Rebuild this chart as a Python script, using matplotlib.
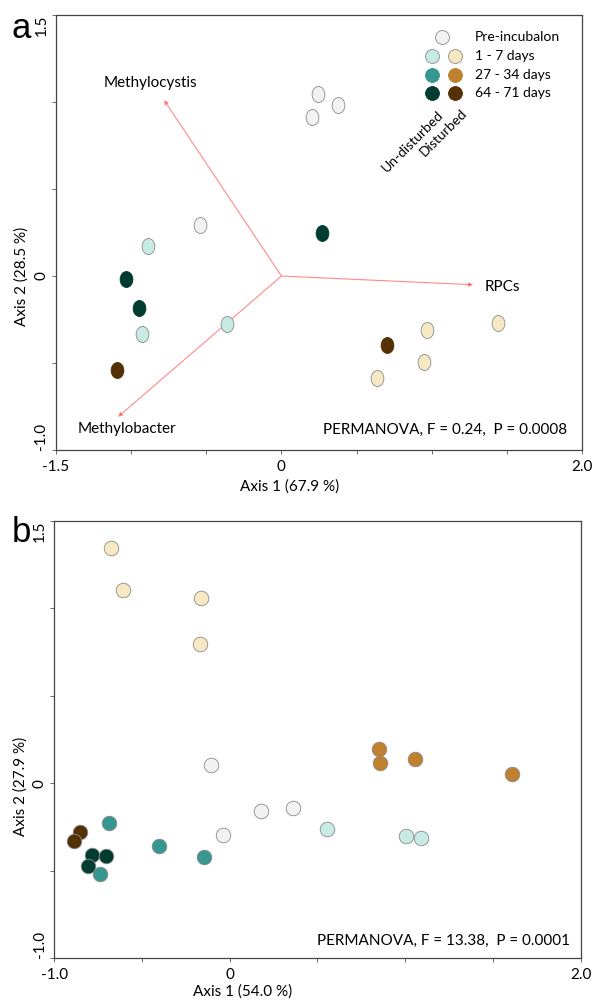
import numpy as np
import matplotlib
matplotlib.use("Agg")
import matplotlib.pyplot as plt
from matplotlib.path import Path
from matplotlib.transforms import Affine2D

# ---- group colours (BrBG-like) ----
group_colors = {
    "pre": "#f2f2f2",
    "u1": "#c7eae5",
    "u27": "#35978f",
    "u64": "#003c30",
    "d1": "#f6e8c3",
    "d27": "#bf812d",
    "d64": "#543005",
}

# ---- panel a: ordination scores ----
a_pre_x = [-0.544, 0.242, 0.375, 0.202]
a_pre_y = [0.291, 1.046, 0.983, 0.914]
a_u1_x = [-0.885, -0.925, -0.362]
a_u1_y = [0.174, -0.332, -0.278]
a_u64_x = [-1.036, -0.947, 0.273]
a_u64_y = [-0.016, -0.184, 0.247]
a_d1_x = [0.971, 1.444, 0.947, 0.636]
a_d1_y = [-0.310, -0.272, -0.493, -0.586]
a_d64_x = [-1.094, 0.705]
a_d64_y = [-0.542, -0.395]

# ---- panel a: biplot vectors ----
vec_names = ["Methylocystis", "Methylobacter", "RPCs"]
vec_x = [-0.781, -1.087, 1.275]
vec_y = [1.011, -0.809, -0.050]

# ---- panel b: ordination scores ----
b_pre_x = [-0.109, 0.176, 0.362, -0.037]
b_pre_y = [0.107, -0.160, -0.139, -0.293]
b_u1_x = [0.553, 1.005, 1.092]
b_u1_y = [-0.263, -0.301, -0.314]
b_u27_x = [-0.687, -0.742, -0.406, -0.147]
b_u27_y = [-0.229, -0.520, -0.358, -0.423]
b_u64_x = [-0.786, -0.706, -0.809]
b_u64_y = [-0.408, -0.413, -0.471]
b_d1_x = [-0.678, -0.609, -0.163, -0.168]
b_d1_y = [1.344, 1.107, 1.060, 0.795]
b_d27_x = [0.853, 0.855, 1.055, 1.608]
b_d27_y = [0.198, 0.114, 0.139, 0.055]
b_d64_x = [-0.855, -0.885]
b_d64_y = [-0.280, -0.328]

legend_labels = ["Pre-incubalon", "1 - 7 days", "27 - 34 days", "64 - 71 days"]

FONT = ["Lato", "DejaVu Sans"]
plt.rcParams["font.family"] = FONT

# slightly tall ellipse used in panel a
ellipse = Path.unit_circle().transformed(Affine2D().scale(0.8, 1.0))

fig = plt.figure(figsize=(5.92, 10.01), dpi=100)
ax_a = fig.add_axes([0.0946, 0.5504, 0.8885, 0.4346])
ax_b = fig.add_axes([0.0917, 0.0427, 0.8892, 0.4369])

EDGE = "#8a8a8a"
DARK = ("u27", "u64", "d27", "d64")


def style_axes(ax, xlim, ylim, xticks, yticks, xlab_show, ylab_show):
    ax.set_xlim(*xlim)
    ax.set_ylim(*ylim)
    ax.set_xticks(xticks)
    ax.set_yticks(yticks)
    ax.set_xticklabels([t if t is not None else "" for t in xlab_show], fontsize=11)
    ax.set_yticklabels([t if t is not None else "" for t in ylab_show], fontsize=11,
                       rotation=90)
    ax.tick_params(direction="out", length=3, width=0.6, colors="#555555",
                   labelcolor="black")
    ax.tick_params(axis="x", pad=4)
    ax.tick_params(axis="y", pad=2.5)
    labels = ax.get_yticklabels()
    for lab in labels:
        lab.set_va("center")
    labels[0].set_va("bottom")
    labels[-1].set_va("top")
    for sp in ax.spines.values():
        sp.set_color("#444444")
        sp.set_linewidth(0.9)


# ---------------- panel a ----------------
ax = ax_a
style_axes(ax, (-1.5, 2.0), (-1.0, 1.5),
           np.arange(-1.5, 2.01, 0.5), np.arange(-1.0, 1.51, 0.5),
           ["-1.5", None, None, "0", None, None, None, "2.0"],
           ["-1.0", None, "0", None, None, "1.5"])

for name, vx, vy in zip(vec_names, vec_x, vec_y):
    ax.annotate("", xy=(vx, vy), xytext=(0, 0),
                arrowprops=dict(arrowstyle="-|>", color="#ff8a8a", lw=0.8,
                                mutation_scale=6, shrinkA=0, shrinkB=0,
                                fc="#ff2020", ec="#ff8a8a"))
ax.text(-0.873, 1.109, vec_names[0], fontsize=11, ha="center", va="center")
ax.text(-1.029, -0.879, vec_names[1], fontsize=11, ha="center", va="center")
ax.text(1.353, -0.063, vec_names[2], fontsize=11, ha="left", va="center")

a_sets = [("pre", a_pre_x, a_pre_y), ("u1", a_u1_x, a_u1_y),
          ("u64", a_u64_x, a_u64_y), ("d1", a_d1_x, a_d1_y),
          ("d64", a_d64_x, a_d64_y)]
for g, xs, ys in a_sets:
    ax.scatter(xs, ys, s=11.5 ** 2, marker=ellipse, c=group_colors[g],
               edgecolors=group_colors[g] if g in DARK else EDGE,
               linewidths=0.6, zorder=3)

ax.text(0.971, 0.046, "PERMANOVA, F = 0.24,  P = 0.0008", transform=ax.transAxes,
        fontsize=11, ha="right", va="center")

# legend built in axes coordinates
col_x = [0.715, 0.759]
row_y = [0.949, 0.906, 0.862, 0.821]
ax.scatter([0.734], [row_y[0]], s=10 ** 2, c=group_colors["pre"], edgecolors=EDGE,
           linewidths=0.6, transform=ax.transAxes, zorder=3, clip_on=False)
for r, (gu, gd) in enumerate([("u1", "d1"), ("u27", "d27"), ("u64", "d64")], start=1):
    for cx, g in zip(col_x, (gu, gd)):
        ax.scatter([cx], [row_y[r]], s=10 ** 2, c=group_colors[g],
                   edgecolors=group_colors[g] if g in DARK else EDGE, linewidths=0.6,
                   transform=ax.transAxes, zorder=3, clip_on=False)
for lab, ry in zip(legend_labels, row_y):
    ax.text(0.797, ry, lab, transform=ax.transAxes, fontsize=10, ha="left",
            va="center")
ax.text(0.724, 0.786, "Un-disturbed", transform=ax.transAxes, fontsize=10,
        rotation=45, rotation_mode="anchor", ha="right", va="top")
ax.text(0.770, 0.789, "Disturbed", transform=ax.transAxes, fontsize=10,
        rotation=45, rotation_mode="anchor", ha="right", va="top")

ax.set_xlabel("Axis 1 (67.9 %)", fontsize=11)
ax.xaxis.set_label_coords(0.444, -0.0667)
ax.set_ylabel("Axis 2 (28.5 %)", fontsize=11)
ax.yaxis.set_label_coords(-0.051, 0.4)
fig.text(0.0363, 0.972, "a", fontsize=25, family="Liberation Sans",
         ha="center", va="center")

# ---------------- panel b ----------------
ax = ax_b
style_axes(ax, (-1.0, 2.0), (-1.0, 1.5),
           np.arange(-1.0, 2.01, 0.5), np.arange(-1.0, 1.51, 0.5),
           ["-1.0", None, "0", None, None, None, "2.0"],
           ["-1.0", None, "0", None, None, "1.5"])

b_sets = [("pre", b_pre_x, b_pre_y), ("u1", b_u1_x, b_u1_y),
          ("u27", b_u27_x, b_u27_y), ("u64", b_u64_x, b_u64_y),
          ("d1", b_d1_x, b_d1_y), ("d27", b_d27_x, b_d27_y),
          ("d64", b_d64_x, b_d64_y)]
for g, xs, ys in b_sets:
    ax.scatter(xs, ys, s=10.5 ** 2, c=group_colors[g], edgecolors=EDGE,
               linewidths=0.6, zorder=3)

ax.text(0.980, 0.040, "PERMANOVA, F = 13.38,  P = 0.0001", transform=ax.transAxes,
        fontsize=11, ha="right", va="center")

ax.set_xlabel("Axis 1 (54.0 %)", fontsize=11)
ax.xaxis.set_label_coords(0.3575, -0.0588)
ax.set_ylabel("Axis 2 (27.9 %)", fontsize=11)
ax.yaxis.set_label_coords(-0.050, 0.392)
fig.text(0.0363, 0.4685, "b", fontsize=25, family="Liberation Sans",
         ha="center", va="center")

fig.savefig("out.png", dpi=100)
